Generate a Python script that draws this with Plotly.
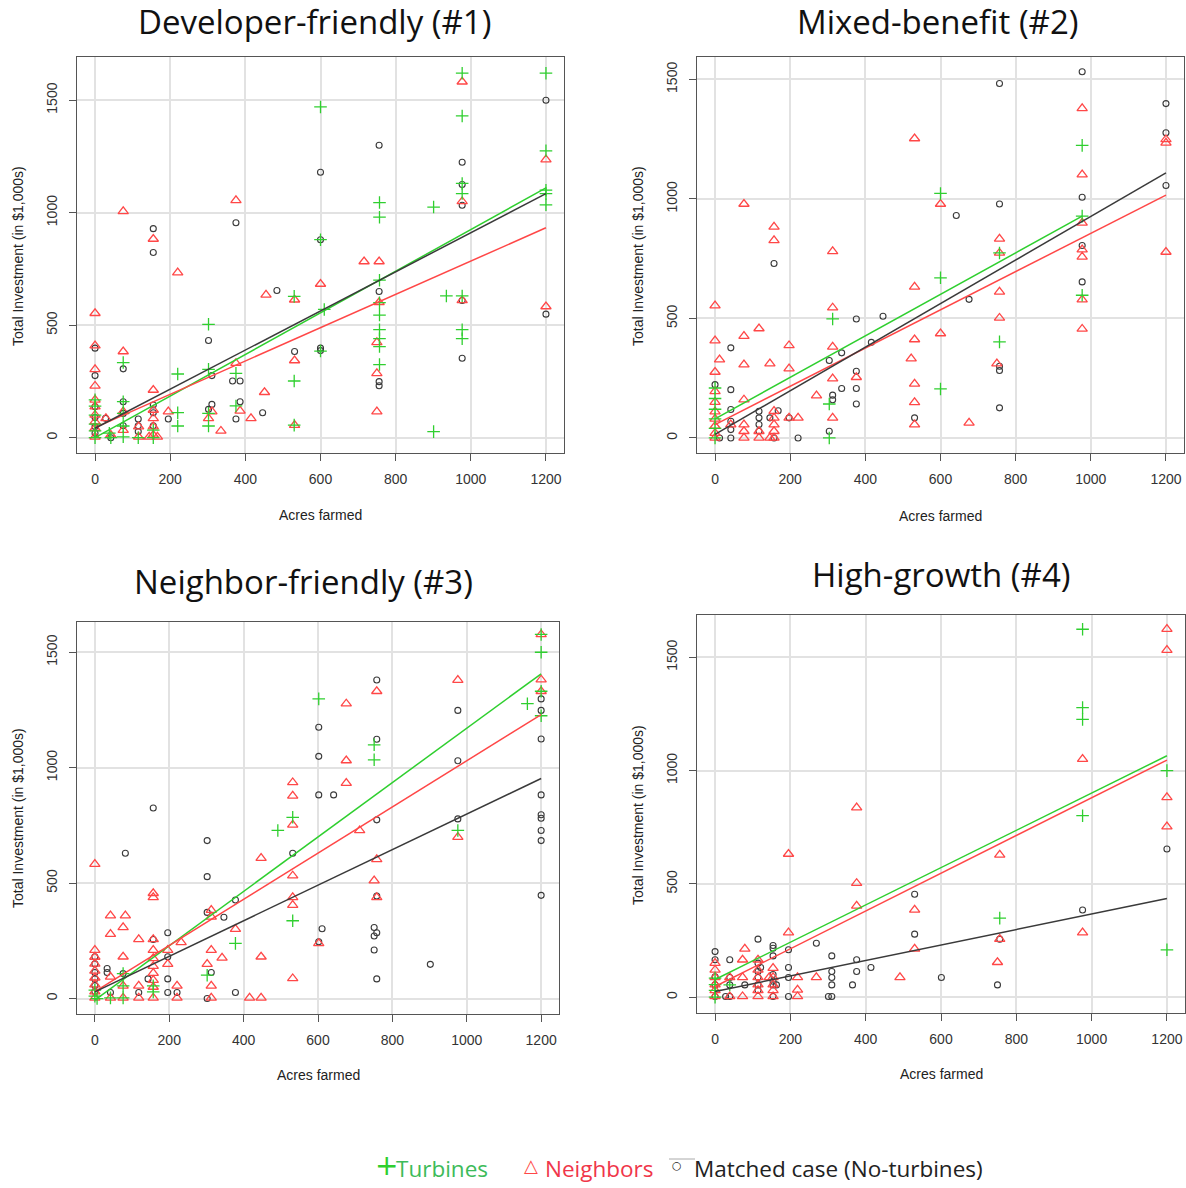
import plotly.graph_objects as go

# ---------------- Panel 1: Developer-friendly ----------------
p1_turb_x = [977, 1200, 600, 977, 1200, 977, 977, 1200, 1200, 1200, 757, 757, 901, 600, 757, 610, 935, 977,
             757, 757, 757, 757, 977, 977, 757, 757, 530, 530, 530, 600, 302, 302, 302, 302, 375, 375, 220,
             220, 220, 901, 75, 75, 75, 75, 75, 155, 155, 0, 0, 0, 0, 0, 0, 38, 42, 115]
p1_turb_y = [1620, 1620, 1470, 1430, 1275, 1130, 1085, 1100, 1085, 1035, 1045, 980, 1025, 880, 700, 570, 630,
             630, 600, 545, 480, 440, 480, 440, 405, 325, 628, 252, 56, 385, 504, 304, 108, 52, 286, 141, 283,
             111, 52, 27, 334, 160, 108, 52, 4, 34, 0, 168, 140, 100, 60, 30, 0, 20, 0, 0]
p1_neigh_x = [977, 1200, 977, 977, 1200, 375, 75, 155, 220, 455, 531, 600, 716, 756, 756, 750, 750, 750, 531,
              531, 375, 451, 386, 415, 335, 311, 302, 195, 155, 155, 155, 155, 155, 75, 75, 0, 0, 0, 0, 0, 0,
              0, 0, 0, 0, 29, 42, 116, 116, 144, 166, 75]
p1_neigh_y = [1582, 1236, 1050, 610, 583, 1055, 1006, 883, 734, 635, 613, 683, 783, 783, 602, 424, 286, 116,
              343, 56, 331, 202, 119, 86, 30, 116, 86, 116, 212, 123, 86, 49, 12, 383, 116, 553, 409, 304,
              230, 168, 138, 101, 71, 42, 4, 86, 12, 49, 4, 4, 4, 34]
p1_match_x = [1200, 756, 600, 977, 977, 977, 977, 977, 1200, 155, 155, 375, 600, 600, 600, 756, 756, 756, 484,
              531, 302, 311, 311, 302, 366, 386, 386, 375, 446, 195, 115, 115, 115, 155, 155, 155, 75, 75, 75,
              75, 0, 0, 0, 0, 0, 0, 28, 42]
p1_match_y = [1500, 1300, 1180, 1224, 1125, 1033, 610, 353, 549, 929, 823, 955, 880, 398, 387, 650, 249, 231,
              654, 383, 432, 276, 148, 126, 252, 252, 160, 83, 111, 83, 83, 53, 27, 145, 111, 53, 306, 160, 108,
              53, 398, 276, 138, 90, 50, 20, 86, 0]
# fitted trend lines: intercept, slope  (order: turbines, neighbors, matched)
p1_fit_intercept = [0, 45, 42]
p1_fit_slope = [0.925, 0.74, 0.869]

# ---------------- Panel 2: Mixed-benefit ----------------
p2_turb_x = [977, 600, 977, 757, 600, 977, 757, 600, 313, 304, 304, 0, 0, 0, 0, 0, 0]
p2_turb_y = [1224, 1023, 928, 774, 670, 597, 402, 205, 498, 142, 0, 209, 165, 120, 80, 40, 0]
p2_neigh_x = [977, 531, 1200, 1200, 977, 77, 600, 157, 157, 313, 1200, 977, 977, 977, 977, 977, 757, 757, 757,
              757, 750, 531, 531, 522, 531, 531, 531, 600, 676, 0, 0, 12, 0, 0, 0, 0, 0, 0, 0, 0, 77, 117, 77,
              146, 197, 197, 77, 313, 313, 313, 313, 376, 270, 221, 197, 42, 77, 77, 77, 117, 117, 157, 157,
              157, 157, 157, 146]
p2_neigh_y = [1379, 1253, 1249, 1235, 1102, 979, 979, 883, 827, 781, 778, 900, 788, 758, 579, 456, 833, 774, 611,
              502, 311, 632, 412, 332, 226, 149, 56, 437, 63, 554, 407, 328, 276, 195, 150, 110, 80, 50, 20, 0,
              426, 458, 307, 311, 387, 290, 160, 545, 381, 248, 84, 254, 177, 84, 84, 56, 56, 28, 0, 28, 0, 112,
              84, 56, 28, 0, 0]
p2_match_x = [977, 757, 1200, 1200, 1200, 977, 757, 642, 977, 977, 676, 157, 376, 447, 416, 337, 304, 376, 376,
              376, 337, 313, 313, 304, 221, 531, 757, 757, 757, 42, 42, 42, 42, 42, 42, 0, 117, 117, 117, 117,
              168, 146, 197, 157, 12]
p2_match_y = [1532, 1483, 1399, 1277, 1056, 1007, 979, 931, 805, 653, 580, 730, 498, 509, 400, 356, 324, 279, 207,
              142, 207, 179, 160, 28, 0, 84, 300, 282, 126, 377, 202, 119, 70, 35, 0, 223, 112, 84, 56, 28, 114,
              84, 84, 0, 0]
p2_fit_intercept = [80, 56, 15]
p2_fit_slope = [0.868, 0.80, 0.912]

# ---------------- Panel 3: Neighbor-friendly ----------------
p3_turb_x = [1200, 1200, 1163, 1200, 1200, 602, 751, 751, 532, 492, 976, 532, 378, 302, 76, 157, 157, 76, 76,
             42, 6, 0, 0]
p3_turb_y = [1577, 1500, 1277, 1331, 1225, 1298, 1099, 1034, 785, 728, 728, 337, 239, 101, 108, 55, 29, 55, 3,
             3, 0, 36, 10]
p3_neigh_x = [1200, 1200, 1200, 976, 758, 676, 676, 676, 532, 532, 532, 712, 976, 447, 758, 751, 758, 532, 532,
              532, 532, 602, 0, 157, 157, 42, 82, 42, 76, 118, 157, 313, 313, 378, 447, 313, 342, 302, 313,
              313, 416, 447, 232, 196, 196, 221, 221, 76, 157, 157, 157, 157, 157, 157, 157, 118, 118, 42, 42,
              0, 0, 0, 0, 0, 0, 0, 0, 76, 76]
p3_neigh_y = [1577, 1381, 1331, 1379, 1331, 1277, 1031, 933, 936, 878, 752, 728, 699, 608, 603, 511, 438, 532,
              438, 405, 87, 239, 582, 456, 438, 359, 359, 279, 308, 256, 256, 383, 354, 301, 181, 210, 176, 149,
              55, 3, 3, 3, 243, 210, 149, 55, 3, 181, 210, 174, 140, 110, 80, 50, 3, 55, 3, 94, 3, 210, 180, 150,
              120, 90, 60, 30, 3, 55, 3]
p3_match_x = [758, 976, 602, 758, 602, 976, 1200, 1200, 1200, 1200, 1200, 1200, 1200, 1200, 1200, 602, 642, 758,
              976, 532, 302, 302, 82, 157, 378, 302, 347, 611, 602, 758, 751, 758, 751, 751, 758, 902, 196, 196,
              196, 196, 221, 313, 302, 378, 118, 143, 157, 33, 33, 42, 0, 0, 0, 0, 0, 0, 76]
p3_match_y = [1380, 1248, 1175, 1123, 1049, 1030, 1298, 1248, 1124, 882, 796, 781, 728, 684, 447, 882, 882, 774,
              778, 629, 684, 528, 629, 825, 427, 373, 352, 302, 246, 444, 308, 285, 271, 210, 85, 148, 285, 181,
              85, 26, 26, 113, 0, 26, 26, 85, 256, 130, 113, 26, 181, 150, 113, 85, 56, 30, 108]
p3_fit_intercept = [-7, 30, 29]
p3_fit_slope = [1.178, 1.0, 0.77]

# ---------------- Panel 4: High-growth ----------------
p4_turb_x = [976, 976, 976, 1200, 976, 756, 1200, 0, 0, 0, 0, 39]
p4_turb_y = [1624, 1278, 1226, 1000, 801, 349, 209, 84, 55, 30, 0, 54]
p4_neigh_x = [1200, 1200, 976, 1200, 1200, 376, 195, 756, 376, 376, 530, 976, 195, 756, 530, 750, 491, 269, 219,
              219, 219, 79, 73, 73, 73, 114, 114, 114, 114, 114, 114, 154, 154, 154, 154, 154, 39, 39, 0, 0, 0,
              0, 0, 0, 144]
p4_neigh_y = [1625, 1532, 1051, 882, 753, 837, 632, 628, 503, 403, 385, 285, 285, 256, 213, 154, 87, 87, 87, 32,
              3, 213, 165, 87, 3, 165, 120, 87, 55, 30, 3, 128, 87, 55, 30, 3, 87, 3, 150, 120, 87, 55, 30, 3, 87]
p4_match_x = [1200, 976, 530, 530, 756, 750, 601, 414, 376, 376, 365, 310, 310, 310, 310, 301, 310, 269, 195,
              195, 195, 195, 114, 154, 154, 154, 114, 121, 114, 114, 114, 114, 154, 154, 154, 154, 163, 79, 39,
              39, 39, 39, 0, 0, 0, 0, 0, 28]
p4_match_y = [654, 385, 454, 278, 256, 54, 87, 131, 165, 113, 54, 182, 113, 87, 54, 3, 3, 238, 209, 131, 87, 3,
              256, 228, 216, 182, 150, 131, 113, 87, 54, 30, 100, 70, 54, 3, 54, 54, 165, 87, 54, 3, 201, 165, 90,
              54, 3, 3]
p4_fit_intercept = [78, 47, 25]
p4_fit_slope = [0.823, 0.833, 0.342]

titles = ["Developer-friendly (#1)", "Mixed-benefit (#2)", "Neighbor-friendly (#3)", "High-growth (#4)"]
x_title = "Acres farmed"
y_title = "Total Investment (in $1,000s)"
legend_labels = ["Turbines", "Neighbors", "Matched case (No-turbines)"]
x_ticks = [0, 200, 400, 600, 800, 1000, 1200]
y_ticks = [0, 500, 1000, 1500]

panels = [
    (p1_turb_x, p1_turb_y, p1_neigh_x, p1_neigh_y, p1_match_x, p1_match_y, p1_fit_intercept, p1_fit_slope),
    (p2_turb_x, p2_turb_y, p2_neigh_x, p2_neigh_y, p2_match_x, p2_match_y, p2_fit_intercept, p2_fit_slope),
    (p3_turb_x, p3_turb_y, p3_neigh_x, p3_neigh_y, p3_match_x, p3_match_y, p3_fit_intercept, p3_fit_slope),
    (p4_turb_x, p4_turb_y, p4_neigh_x, p4_neigh_y, p4_match_x, p4_match_y, p4_fit_intercept, p4_fit_slope),
]

W, H = 1186, 1188
GREEN, RED, BLACK = "#2fcf2f", "#ff4747", "#3a3a3a"

# plot boxes in pixels: left, right, top, bottom
boxes = [(77, 564, 57, 453), (697, 1184, 57, 453), (77, 559, 622, 1014), (697, 1185, 615, 1013)]
y_ranges = [(-68, 1692), (-63, 1594), (-67, 1631), (-70, 1687)]
x_range = (-48, 1248)

fig = go.Figure()

for i, (tx, ty, nx, ny, mx, my, b0, b1) in enumerate(panels):
    ax = "" if i == 0 else str(i + 1)
    xa, ya = "x" + ax, "y" + ax

    fig.add_trace(go.Scatter(x=mx, y=my, mode="markers", xaxis=xa, yaxis=ya,
                             marker=dict(symbol="circle-open", size=6, color=BLACK, line=dict(width=1.1))))
    fig.add_trace(go.Scatter(x=nx, y=ny, mode="markers", xaxis=xa, yaxis=ya,
                             marker=dict(symbol="triangle-up-open", size=9, color=RED, line=dict(width=1.3))))
    fig.add_trace(go.Scatter(x=tx, y=ty, mode="markers", xaxis=xa, yaxis=ya,
                             marker=dict(symbol="cross-thin-open", size=9, color=GREEN, line=dict(width=1.3))))

    # least-squares lines drawn over each group's range of acres
    for (sx, col), a, s in zip([(tx, GREEN), (nx, RED), (mx, BLACK)], b0, b1):
        lo, hi = min(sx), max(sx)
        fig.add_trace(go.Scatter(x=[lo, hi], y=[a + s * lo, a + s * hi], mode="lines", xaxis=xa, yaxis=ya,
                                 line=dict(color=col, width=1.5)))

    l, r, t, b = boxes[i]
    axis_common = dict(showgrid=True, gridcolor="#e2e2e2", gridwidth=1.5, zeroline=False,
                       showline=True, linecolor="#555555", linewidth=1.2, mirror=True,
                       ticks="outside", ticklen=7, tickcolor="#555555", tickwidth=1,
                       ticklabelstandoff=6,
                       tickfont=dict(family="Liberation Sans, Arial", size=14, color="#333333"))
    fig.layout["xaxis" + ax] = dict(domain=[l / W, r / W], range=list(x_range), tickvals=x_ticks,
                                    anchor=ya, **axis_common)
    fig.layout["yaxis" + ax] = dict(domain=[1 - b / H, 1 - t / H], range=list(y_ranges[i]), tickvals=y_ticks,
                                    anchor=xa, tickangle=-90, **axis_common)

annotations = []
title_pos = [(314, 22), (938, 22), (303, 582), (941, 574)]
for (cx, cy), txt in zip(title_pos, titles):
    annotations.append(dict(x=cx / W, y=1 - cy / H, xref="paper", yref="paper", text=txt, showarrow=False,
                            xanchor="center", yanchor="middle",
                            font=dict(family="Open Sans", size=33, color="#111111")))

xt_pos = [(320, 515), (940, 516), (318, 1075), (941, 1074)]
for cx, cy in xt_pos:
    annotations.append(dict(x=cx / W, y=1 - cy / H, xref="paper", yref="paper", text=x_title, showarrow=False,
                            xanchor="center", yanchor="middle",
                            font=dict(family="Liberation Sans, Arial", size=14, color="#222222")))

yt_pos = [(18, 256), (638, 256), (18, 818), (638, 815)]
for cx, cy in yt_pos:
    annotations.append(dict(x=cx / W, y=1 - cy / H, xref="paper", yref="paper", text=y_title, showarrow=False,
                            xanchor="center", yanchor="middle", textangle=-90,
                            font=dict(family="Liberation Sans, Arial", size=14, color="#222222")))

# legend row
LEG_Y = 1168
leg_items = [
    ("+", 386, GREEN, 28, legend_labels[0], 394, "#3dbb5a"),
    ("\u25b3", 531, RED, 18, legend_labels[1], 543, "#f0364a"),
    ("\u25cb", 677, "#222222", 11, legend_labels[2], 692, "#222222"),
]
for sym, sx, scol, ssize, label, lx, lcol in leg_items:
    annotations.append(dict(x=sx / W, y=1 - (LEG_Y - 3) / H, xref="paper", yref="paper", text=sym,
                            showarrow=False, xanchor="center", yanchor="middle",
                            font=dict(family="DejaVu Sans", size=ssize, color=scol)))
    annotations.append(dict(x=lx / W, y=1 - LEG_Y / H, xref="paper", yref="paper", text=label,
                            showarrow=False, xanchor="left", yanchor="middle",
                            font=dict(family="Open Sans", size=22.5, color=lcol)))

# thin rule above the matched-case legend glyph
shapes = [dict(type="line", xref="paper", yref="paper", x0=669 / W, x1=695 / W, y0=1 - 1159 / H,
               y1=1 - 1159 / H, line=dict(color="#aaaaaa", width=1))]

fig.update_layout(width=W, height=H, margin=dict(l=0, r=0, t=0, b=0), showlegend=False,
                  paper_bgcolor="white", plot_bgcolor="white", annotations=annotations, shapes=shapes)

fig.write_html("out.html")
